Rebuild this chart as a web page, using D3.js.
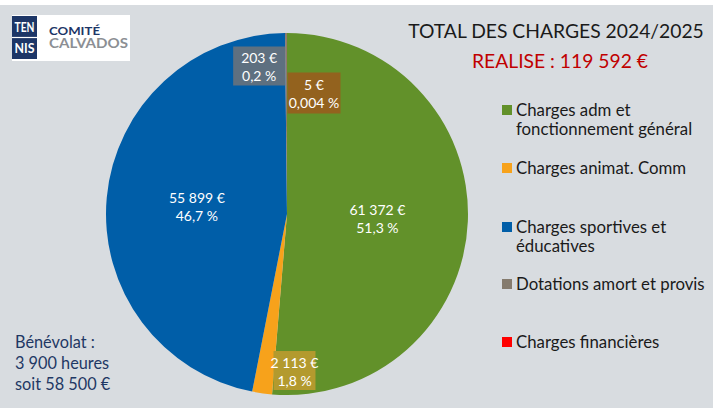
<!DOCTYPE html>
<html>
<head>
<meta charset="utf-8">
<script src="https://cdn.jsdelivr.net/npm/d3@7"></script>
<style>
  body { margin: 0; background: #fff; }
  text { font-family: Lato, "Open Sans", sans-serif; }
</style>
</head>
<body>
<svg width="713" height="408"></svg>
<script>
const categories = [
  "Charges adm et|fonctionnement général",
  "Charges animat. Comm",
  "Charges sportives et|éducatives",
  "Dotations amort et provis",
  "Charges financières"
];
const values = [61372, 2113, 55899, 203, 5];
const amountLabels = ["61 372 €", "2 113 €", "55 899 €", "203 €", "5 €"];
const percentLabels = ["51,3 %", "1,8 %", "46,7 %", "0,2 %", "0,004 %"];
const colors = ["#62912a", "#f7a21b", "#005ea8", "#857b6e", "#ff0000"];
const boxColors = [null, "#b39a2e", null, "#5e7080", "#93621e"];

const svg = d3.select("svg");
const width = +svg.attr("width");
const height = +svg.attr("height");

svg.append("rect")
  .attr("x", 0).attr("y", 5)
  .attr("width", width).attr("height", height - 5)
  .attr("fill", "#d8dce0");

// logo
const logo = svg.append("g").attr("transform", "translate(12, 15)");
logo.append("rect").attr("width", 118).attr("height", 46).attr("fill", "#fff");
logo.append("rect").attr("x", 0).attr("y", 1).attr("width", 25).attr("height", 43).attr("fill", "#1d3667");
logo.append("line").attr("x1", 0).attr("x2", 25).attr("y1", 22.5).attr("y2", 22.5)
  .attr("stroke", "#fff").attr("stroke-width", 1.2);
logo.selectAll("text.tn")
  .data(["TEN", "NIS"])
  .join("text")
  .attr("class", "tn")
  .attr("x", 12.5).attr("y", (d, i) => 16.5 + i * 21.5)
  .attr("text-anchor", "middle")
  .attr("fill", "#fff").attr("font-size", 14).attr("font-weight", 700)
  .attr("font-family", "'Liberation Sans Narrow', 'DejaVu Sans Condensed', sans-serif")
  .attr("textLength", 20).attr("lengthAdjust", "spacingAndGlyphs")
  .text(d => d);
logo.append("text").attr("x", 37).attr("y", 20)
  .attr("fill", "#1d3667").attr("font-size", 11.5).attr("font-weight", 700)
  .attr("font-family", "'DejaVu Sans', sans-serif")
  .attr("textLength", 51).attr("lengthAdjust", "spacingAndGlyphs")
  .text("COMITÉ");
logo.append("text").attr("x", 37).attr("y", 33)
  .attr("fill", "#8c8f94").attr("font-size", 12.5).attr("font-weight", 700)
  .attr("font-family", "'DejaVu Sans', sans-serif")
  .attr("textLength", 79).attr("lengthAdjust", "spacingAndGlyphs")
  .text("CALVADOS");

// titles
svg.append("text").attr("x", 556).attr("y", 38).attr("text-anchor", "middle")
  .attr("fill", "#1a1a1a").attr("font-size", 19.3)
  .text("TOTAL DES CHARGES 2024/2025");
svg.append("text").attr("x", 560).attr("y", 68).attr("text-anchor", "middle")
  .attr("fill", "#c00000").attr("font-size", 19.3)
  .text("REALISE : 119 592 €");

// pie
const cx = 287, cy = 214, radius = 181;
const pie = d3.pie().sort(null).value(d => d)(values);
const arc = d3.arc().innerRadius(0).outerRadius(radius);
const g = svg.append("g").attr("transform", `translate(${cx}, ${cy})`);

g.selectAll("path.slice")
  .data(pie)
  .join("path")
  .attr("class", "slice")
  .attr("d", arc)
  .attr("fill", d => colors[d.index]);

// label placement: centroid for big slices, outer ring for small ones
const labelArc = d3.arc().innerRadius(156).outerRadius(156);
const smallArc = d3.arc().innerRadius(150).outerRadius(150);
const labelPos = d => {
  const i = d.index;
  if (i === 0 || i === 2) return arc.centroid(d);
  if (i === 1) { const p = labelArc.centroid(d); return [p[0] + 29, p[1] + 2]; }
  if (i === 3) { const p = smallArc.centroid(d); return [p[0] - 27, p[1] + 2]; }
  const p = smallArc.centroid(d); return [p[0] + 27, p[1] + 29];
};
const boxSize = [null, [42, 39], null, [52, 39], [53, 41]];

const labels = g.selectAll("g.label")
  .data(pie)
  .join("g")
  .attr("class", "label")
  .attr("transform", d => `translate(${labelPos(d)})`);

labels.filter(d => boxColors[d.index])
  .append("rect")
  .attr("x", d => -boxSize[d.index][0] / 2)
  .attr("y", d => -boxSize[d.index][1] / 2)
  .attr("width", d => boxSize[d.index][0])
  .attr("height", d => boxSize[d.index][1])
  .attr("fill", d => boxColors[d.index]);

labels.append("text")
  .attr("text-anchor", "middle")
  .attr("fill", "#fff")
  .attr("font-size", 14)
  .attr("y", -3)
  .text(d => amountLabels[d.index]);
labels.append("text")
  .attr("text-anchor", "middle")
  .attr("fill", "#fff")
  .attr("font-size", 14)
  .attr("y", 15)
  .text(d => percentLabels[d.index]);

// legend
const legendY = [110, 168, 227, 284, 342];
const legend = svg.append("g").attr("transform", "translate(502, 0)");
categories.forEach((c, i) => {
  const row = legend.append("g").attr("transform", `translate(0, ${legendY[i]})`);
  row.append("rect").attr("x", 0).attr("y", -5).attr("width", 10).attr("height", 10)
    .attr("fill", colors[i]);
  const t = row.append("text").attr("x", 14).attr("y", 6)
    .attr("fill", "#1a1a1a").attr("font-size", 16.8);
  c.split("|").forEach((line, j) => {
    t.append("tspan").attr("x", 14).attr("dy", j === 0 ? 0 : 19).text(line);
  });
});

// bénévolat note
const note = svg.append("text").attr("x", 15).attr("y", 348)
  .attr("fill", "#1f3864").attr("font-size", 16.3);
["Bénévolat :", "3 900 heures", "soit 58 500 €"].forEach((line, j) => {
  note.append("tspan").attr("x", 15).attr("dy", j === 0 ? 0 : 21).text(line);
});
</script>
</body>
</html>
